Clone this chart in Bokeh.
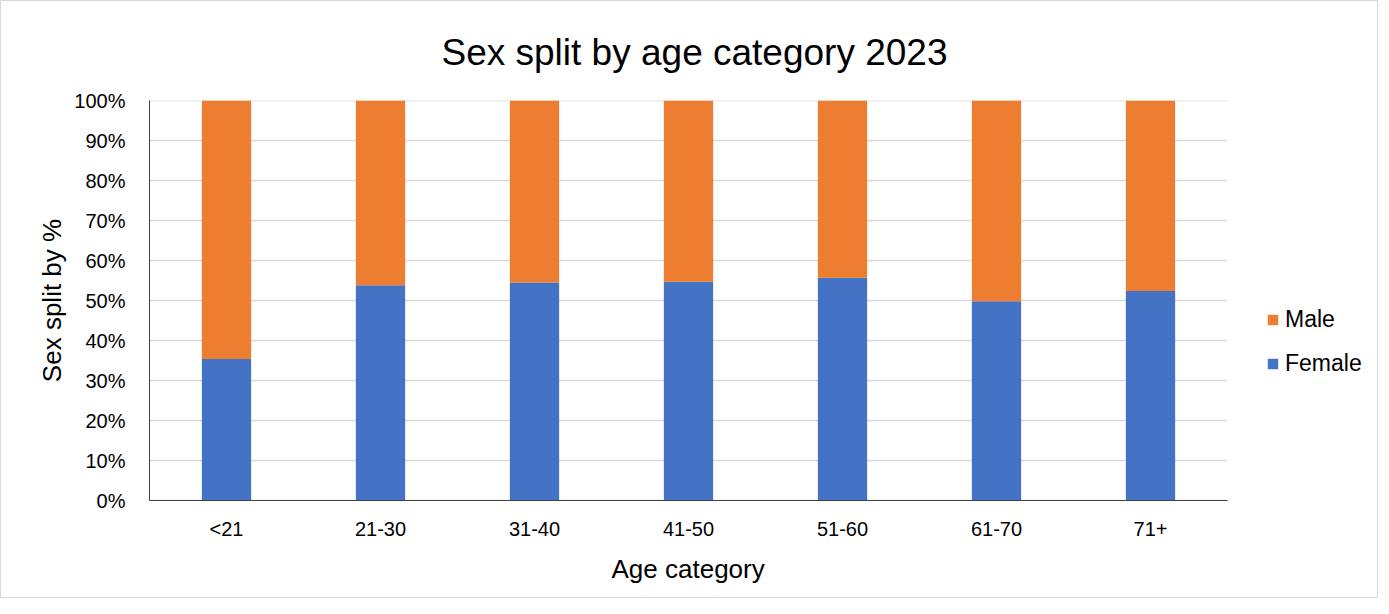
from bokeh.plotting import figure
from bokeh.models import ColumnDataSource, Legend, LegendItem, FixedTicker, NumeralTickFormatter, Range1d, Title
from bokeh.embed import file_html
from bokeh.resources import INLINE

categories = ["<21", "21-30", "31-40", "41-50", "51-60", "61-70", "71+"]
female = [35.4, 53.8, 54.5, 54.7, 55.7, 49.8, 52.4]
male = [100 - f for f in female]
y_ticks = [0, 10, 20, 30, 40, 50, 60, 70, 80, 90, 100]

idx = list(range(len(categories)))
src = ColumnDataSource(dict(x=idx, cat=categories,
                            Female=[f / 100 for f in female], Male=[m / 100 for m in male]))
grid_src = ColumnDataSource(dict(y=[t / 100 for t in y_ticks]))

FONT = "Liberation Sans"
n = len(categories)
x_lo, x_hi = -0.5, n - 0.5

p = figure(x_range=Range1d(x_lo, x_lo + 1230 / 154), y_range=Range1d(0, 1), width=1378, height=598,
           output_backend="svg", toolbar_location=None,
           min_border_left=148, min_border_right=0, min_border_top=99, min_border_bottom=99)

# light horizontal gridlines only across the category area
p.segment(x0=x_lo, x1=x_hi, y0="y", y1="y", source=grid_src, line_color="#D9D9D9", line_width=1.5)

r = p.vbar_stack(["Female", "Male"], x="x", width=0.32, source=src,
                 color=["#4472C4", "#ED7D31"], line_color=None)

p.title.text = "Sex split by age category 2023"
p.title.align = "left"
p.title.text_font = FONT
p.title.text_font_size = "37px"
p.title.text_font_style = "normal"
p.title.text_color = "#000000"
p.title.standoff = 55
p.title.offset = 292

p.xaxis.ticker = FixedTicker(ticks=idx)
p.xaxis.major_label_overrides = {i: c for i, c in zip(idx, categories)}
p.xaxis.bounds = (x_lo, x_hi)
p.yaxis.ticker = FixedTicker(ticks=[t / 100 for t in y_ticks])
p.yaxis.formatter = NumeralTickFormatter(format="0%")
for ax in (p.xaxis, p.yaxis):
    ax.major_tick_line_color = None
    ax.minor_tick_line_color = None
    ax.axis_line_color = "#404040"
    ax.major_label_text_font = FONT
    ax.major_label_text_font_size = "20px"
    ax.major_label_text_color = "#000000"
    ax.axis_label_text_font = FONT
    ax.axis_label_text_font_size = "26px"
    ax.axis_label_text_font_style = "normal"
    ax.axis_label_text_color = "#000000"
p.xaxis.major_label_standoff = 11
p.yaxis.major_label_standoff = 18
p.yaxis.axis_label = "Sex split by %"
p.yaxis.axis_label_standoff = 4

xlabel = Title(text="Age category", align="left", offset=462, standoff=18,
               text_font=FONT, text_font_size="26px", text_font_style="normal", text_color="#000000")
p.add_layout(xlabel, "below")

p.xgrid.grid_line_color = None
p.ygrid.grid_line_color = None
p.outline_line_color = None

legend = Legend(items=[LegendItem(label="Male", renderers=[r[1]]),
                       LegendItem(label="Female", renderers=[r[0]])],
                location=(1117, 123), border_line_color=None, background_fill_alpha=0,
                padding=0, margin=0,
                label_text_font=FONT, label_text_font_size="23px", label_text_color="#000000",
                glyph_width=13, glyph_height=13, spacing=17, label_standoff=6)
p.add_layout(legend, "center")

p.styles = {"border": "1px solid #D9D9D9"}

open("out.html", "w").write(file_html(p, INLINE))
